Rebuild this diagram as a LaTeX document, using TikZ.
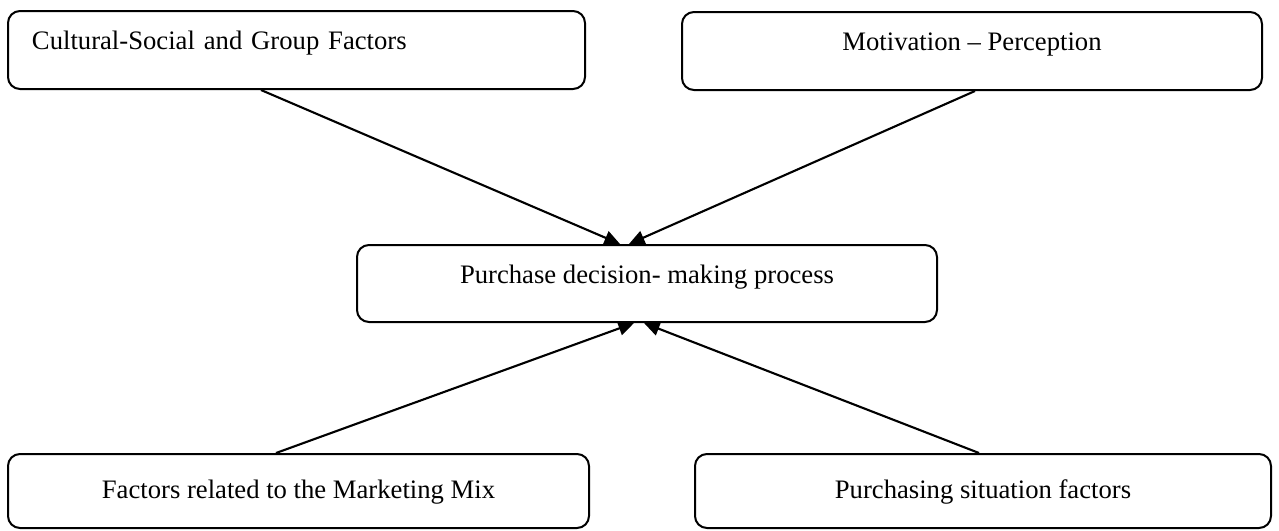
\documentclass[tikz,border=0pt]{standalone}
\usepackage{fontspec}
\setmainfont{Liberation Serif}
\usetikzlibrary{arrows.meta,calc}
\tikzset{
  factor/.style={draw, line width=0.9pt, rounded corners=5.4pt, inner sep=0pt,
    font=\fontsize{12}{14}\selectfont, text height=8pt, text depth=1pt},
  raised/.style={text depth=8.2pt},
  arr/.style={line width=0.95pt, -{Triangle[length=7pt,width=6.4pt]}}
}
\begin{document}
\begin{tikzpicture}[x=0.45pt,y=-0.45pt]
    \useasboundingbox (0,0) rectangle (1279,530);
    \node[factor,raised,minimum width=577*0.45pt,minimum height=78*0.45pt,
      text width=529*0.45pt,align=left] (cult) at (296.5,50) {Cultural-Social and Group Factors};
    \node[factor,raised,minimum width=580*0.45pt,minimum height=78*0.45pt] (motiv) at (972,51) {Motivation -- Perception};
    \node[factor,raised,minimum width=580*0.45pt,minimum height=77*0.45pt] (decision) at (647,283.5) {Purchase decision- making process};
    \node[factor,minimum width=581*0.45pt,minimum height=74*0.45pt] (mix) at (298.5,491) {Factors related to the Marketing Mix};
    \node[factor,minimum width=576*0.45pt,minimum height=74*0.45pt] (situation) at (983,491) {Purchasing situation factors};
    % arrows into the decision box
    \draw[arr] ($(cult.south west)+(254,0)$) -- ($(decision.north west)+(264,0)$);
    \draw[arr] ($(motiv.south west)+(294,0)$) -- ($(decision.north west)+(273,0)$);
    \draw[arr] ($(mix.north west)+(269,0)$) -- ($(decision.south west)+(278,0)$);
    \draw[arr] ($(situation.north west)+(285,0)$) -- ($(decision.south west)+(288,0)$);
\end{tikzpicture}
\end{document}
